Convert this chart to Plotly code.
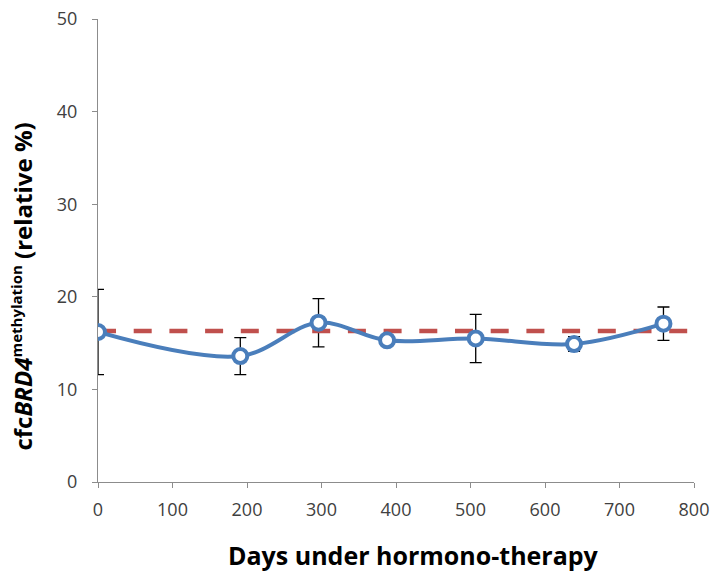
import plotly.graph_objects as go

days = [0, 191, 296, 388, 507, 639, 759]
methylation = [16.2, 13.6, 17.2, 15.3, 15.5, 14.9, 17.1]
err = [4.6, 2.0, 2.6, 0.5, 2.6, 0.8, 1.8]
reference_level = 16.3
ref_x = [0, 792]
x_ticks = [0, 100, 200, 300, 400, 500, 600, 700, 800]
y_ticks = [0, 10, 20, 30, 40, 50]

blue = "#4A7EBB"
red = "#C0504D"
font_family = "Open Sans, Liberation Sans, sans-serif"

fig = go.Figure()

# error bars (drawn beneath markers)
fig.add_trace(go.Scatter(
    x=days, y=methylation, mode="markers",
    marker=dict(size=1, color="rgba(0,0,0,0)"),
    error_y=dict(type="data", array=err, visible=True, color="black", thickness=1.3, width=6),
    hoverinfo="skip", showlegend=False,
))

# reference dashed line
fig.add_trace(go.Scatter(
    x=ref_x, y=[reference_level, reference_level], mode="lines",
    line=dict(color=red, width=4.5, dash="18px,17.7px"),
    showlegend=False,
))

# smoothed data line with hollow markers
fig.add_trace(go.Scatter(
    x=days, y=methylation, mode="lines+markers",
    line=dict(color=blue, width=4, shape="spline", smoothing=1),
    marker=dict(size=14, color="white", line=dict(color=blue, width=4)),
    showlegend=False,
))

axis_common = dict(
    showgrid=False, zeroline=False, showline=True, linecolor="#8C8C8C", linewidth=1,
    ticks="outside", ticklen=5, tickcolor="#8C8C8C", automargin=False,
    ticklabeloverflow="allow",
    tickfont=dict(family=font_family, size=18, color="#404040"),
)

fig.update_layout(
    width=712, height=572,
    margin=dict(l=98, r=18, t=19, b=90),
    paper_bgcolor="white", plot_bgcolor="white",
    xaxis=dict(range=[0, 800], tickvals=x_ticks, ticklabelstandoff=6, **axis_common),
    yaxis=dict(range=[0, 50], tickvals=y_ticks, ticklabelstandoff=11, **axis_common),
    annotations=[
        dict(text="<b>Days under hormono-therapy</b>", xref="paper", yref="paper",
             x=0.530, y=-0.157, xanchor="center", yanchor="middle", showarrow=False,
             font=dict(family=font_family, size=25, color="black")),
        dict(text="<b>cfc<i>BRD4</i><sup><span style='font-size:15px'>methylation</span></sup> (relative %)</b>",
             xref="paper", yref="paper",
             x=-0.126, y=0.422, xanchor="center", yanchor="middle", showarrow=False, textangle=-90,
             font=dict(family=font_family, size=24, color="black")),
    ],
)

fig.write_html(
    "out.html",
    config={"displayModeBar": False},
    post_script="document.body.style.margin='0';document.body.style.overflow='hidden';",
)
